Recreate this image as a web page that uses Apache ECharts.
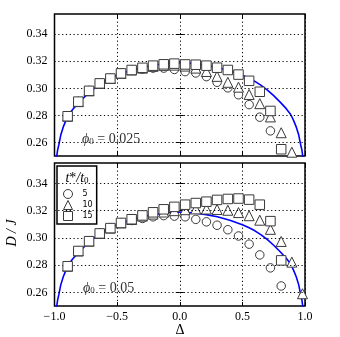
<!DOCTYPE html>
<html><head><meta charset="utf-8">
<script src="https://cdn.jsdelivr.net/npm/echarts@6/dist/echarts.min.js"></script>
<style>html,body{margin:0;padding:0;background:#fff}#c{width:340px;height:337px}</style>
</head><body><div id="c"></div>
<script>
// ---- data ----
const delta = [-0.980,-0.895,-0.810,-0.724,-0.639,-0.554,-0.469,-0.384,-0.298,-0.213,-0.128,-0.043,
                0.043,0.128,0.213,0.298,0.384,0.469,0.554,0.639,0.724,0.810,0.895,0.980];

// phi0 = 0.025 (top panel)
const top5  = [null,0.2794,0.2902,0.2982,0.3037,0.3073,0.3111,0.3133,0.3143,0.3150,0.3150,0.3140,
               0.3124,0.3114,0.3087,0.3045,0.3004,0.2953,0.2880,0.2787,0.2686,null,null,null];
const top10 = [null,0.2794,0.2902,0.2982,0.3037,0.3073,0.3111,0.3136,0.3150,0.3163,0.3170,0.3172,
               0.3165,0.3150,0.3125,0.3089,0.3045,0.3009,0.2955,0.2887,0.2789,0.2672,0.2528,null];
const top15 = [null,0.2794,0.2902,0.2982,0.3037,0.3073,0.3111,0.3136,0.3152,0.3168,0.3178,0.3183,
               0.3177,0.3175,0.3168,0.3153,0.3136,0.3102,0.3056,0.2975,0.2833,0.2550,null,null];

// phi0 = 0.05 (bottom panel)
const bot5  = [null,0.2792,0.2904,0.2976,0.3033,0.3072,0.3108,0.3128,0.3143,0.3155,0.3164,0.3160,
               0.3155,0.3136,0.3118,0.3093,0.3060,0.3014,0.2954,0.2875,0.2780,0.2647,null,null];
const bot10 = [null,0.2792,0.2904,0.2976,0.3033,0.3072,0.3110,0.3135,0.3160,0.3175,0.3190,0.3200,
               0.3207,0.3213,0.3212,0.3209,0.3203,0.3186,0.3163,0.3130,0.3063,0.2974,0.2822,0.2590];
const bot15 = [null,0.2792,0.2904,0.2976,0.3033,0.3072,0.3110,0.3137,0.3165,0.3188,0.3210,0.3228,
               0.3244,0.3256,0.3266,0.3279,0.3286,0.3289,0.3281,0.3244,0.3123,0.2835,null,null];

// theory curve
const curveX = [-0.995,-0.985,-0.975,-0.965,-0.95,-0.93,-0.91,-0.895,-0.88,-0.85,-0.80,-0.75,-0.70,-0.65,
                -0.60,-0.55,-0.50,-0.40,-0.30,-0.20,-0.10,0.00,0.10,0.20,0.30,0.40,0.50,0.55,0.60,0.65,
                0.70,0.75,0.80,0.85,0.88,0.895,0.91,0.93,0.95,0.965,0.975,0.985,0.995];
const curveY = [0.2360,0.2480,0.2545,0.2585,0.2655,0.2715,0.2760,0.2790,0.2815,0.2850,0.2900,0.2946,0.2987,0.3022,
                0.3052,0.3076,0.3097,0.3130,0.3155,0.3173,0.3185,0.3190,0.3185,0.3173,0.3155,0.3130,0.3097,0.3076,0.3052,0.3022,
                0.2987,0.2946,0.2900,0.2850,0.2815,0.2790,0.2760,0.2715,0.2655,0.2585,0.2545,0.2480,0.2360];

const xTicks = [-1.0,-0.5,0.0,0.5,1.0];
const yTicks = [0.26,0.28,0.30,0.32,0.34];
const seriesNames = ['5','10','15'];
const panelLabels = ['0.025','0.05'];
const yName = 'D / J';
const xName = 'Δ';

// ---- chart ----
const SERIF = '"Liberation Serif", "DejaVu Serif", serif';
const chart = echarts.init(document.getElementById('c'), null, {renderer:'canvas'});

const grids = [
  {left:54.5, top:14, width:250.5, height:142},
  {left:54.5, top:163, width:250.5, height:143}
];

function xAx(gi, pos, labels){
  return {type:'value', gridIndex:gi, position:pos, min:-1, max:1, interval:0.5,
    axisLine:{show:false},
    axisTick:{show:true, inside:true, length:4, lineStyle:{color:'#000', width:1}},
    splitLine:{show:pos==='bottom', lineStyle:{color:'#000', width:1, type:[1.2,2.6]}},
    axisLabel:{show:labels, fontFamily:SERIF, fontSize:12, color:'#000', margin:5,
      formatter: v => v.toFixed(1).replace('-', '\u2212')}};
}
function yAx(gi, pos){
  return {type:'value', gridIndex:gi, position:pos, min:0.25, max:0.355, interval:0.01,
    axisLine:{show:false},
    axisTick:{show:true, inside:true, length:4, customValues:yTicks, lineStyle:{color:'#000', width:1}},
    splitLine:{show:false},
    axisLabel:{show:pos==='left', customValues:yTicks, fontFamily:SERIF, fontSize:12, color:'#000', margin:7,
      formatter: v => yTicks.some(t => Math.abs(t - v) < 1e-6) ? v.toFixed(2) : ''}};
}

const panelData = [[top5, top10, top15], [bot5, bot10, bot15]];
const symbols = ['circle','triangle','rect'];
const sizes = [8.5, 10, 9.5];
const series = [];
[0,1].forEach(gi => {
  const xi = gi*2, yi = gi*2;
  series.push({type:'line', xAxisIndex:xi, yAxisIndex:yi, data:[], silent:true, z:1,
    markLine:{silent:true, symbol:'none', label:{show:false}, animation:false,
      lineStyle:{color:'#000', width:1, type:[1.2,2.6]},
      data: yTicks.map(v => ({yAxis:v}))}});
  series.push({type:'line', xAxisIndex:xi, yAxisIndex:yi, z:2, showSymbol:false, clip:true,
    lineStyle:{color:'#0000ff', width:1.6},
    data: curveX.map((x,i) => [x, curveY[i]])});
  panelData[gi].forEach((arr, k) => {
    series.push({type:'scatter', name:seriesNames[k], xAxisIndex:xi, yAxisIndex:yi, z:3+k,
      symbol:symbols[k], symbolSize:sizes[k],
      itemStyle:{color:'#ffffff', borderColor:'#3a3a3a', borderWidth:1, opacity:1},
      data: delta.map((d,i) => [d, arr[i]]).filter(p => p[1] != null)});
  });
});

const mainRich = {
  i:{fontStyle:'italic', fontFamily:SERIF, fontSize:14, lineHeight:16, verticalAlign:'bottom'},
  n:{fontFamily:SERIF, fontSize:14, lineHeight:16, verticalAlign:'bottom'},
  s:{fontFamily:SERIF, fontSize:9, lineHeight:9, verticalAlign:'bottom'}
};
function phiLabel(v){ return '{i|ϕ}{s|0}{n| = ' + v + '}'; }

const graphic = [
  {type:'text', x:77, y:177, z:100, style:{text:'{i|t}{n|*}{i|/t}{s|0}', rich:mainRich, fill:'#000', align:'center', verticalAlign:'middle'}},
  {type:'text', x:12, y:233, rotation:Math.PI/2, z:100, style:{text:yName, font:'italic 14px '+SERIF, fill:'#000', align:'center', verticalAlign:'middle'}},
  {type:'text', x:180, y:330, z:100, style:{text:xName, font:'14px '+SERIF, fill:'#000', align:'center', verticalAlign:'middle'}},
  {type:'text', x:82, y:138, z:100, style:{text:phiLabel(panelLabels[0]), rich:mainRich, fill:'#333', verticalAlign:'middle'}},
  {type:'text', x:83, y:287, z:100, style:{text:phiLabel(panelLabels[1]), rich:mainRich, fill:'#333', verticalAlign:'middle'}}
];

chart.setOption({
  animation:false,
  backgroundColor:'#fff',
  grid: grids.map(g => Object.assign({show:true, borderColor:'#000', borderWidth:1.5, backgroundColor:'transparent', containLabel:false}, g)),
  xAxis:[xAx(0,'bottom',false), xAx(0,'top',false), xAx(1,'bottom',true), xAx(1,'top',false)],
  yAxis:[yAx(0,'left'), yAx(0,'right'), yAx(1,'left'), yAx(1,'right')],
  legend:{show:true, orient:'vertical', left:57, top:166, selectedMode:false,
    padding:[23,4,3,6], itemWidth:9, itemHeight:9, itemGap:1,
    borderColor:'#000', borderWidth:1.5, borderRadius:0, backgroundColor:'#fff',
    textStyle:{fontFamily:'"DejaVu Sans", sans-serif', fontSize:8, color:'#000', padding:[0,0,0,5]},
    itemStyle:{color:'#fff', borderColor:'#3a3a3a', borderWidth:1},
    data: seriesNames.map((n,k) => ({name:n, icon:symbols[k]}))},
  graphic: graphic,
  series: series
});
</script></body></html>
